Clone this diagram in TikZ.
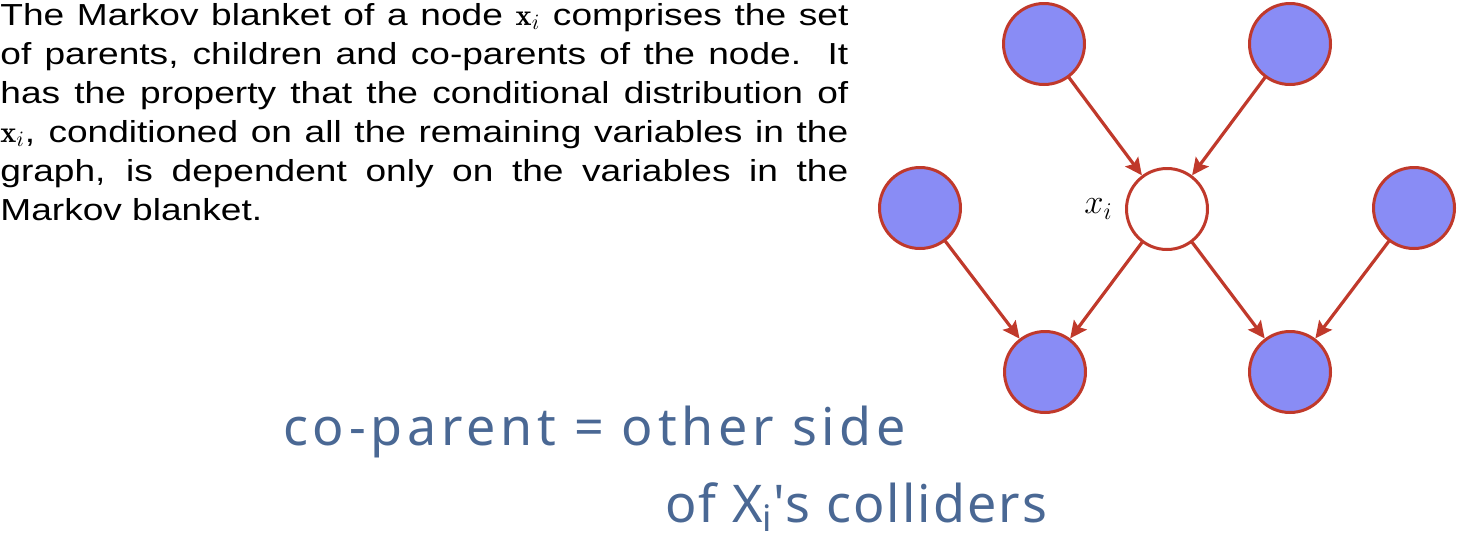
\documentclass[tikz,border=0pt]{standalone}
\usepackage{fontspec}
\usetikzlibrary{positioning,arrows.meta}
\newfontfamily\blurbfont{Liberation Sans}[FakeStretch=1.22]
\newfontfamily\handfont{Noto Sans}[LetterSpace=9]
\definecolor{edgered}{RGB}{192,57,43}
\definecolor{nodeblue}{RGB}{137,140,245}
\definecolor{inkblue}{RGB}{74,104,148}
\begin{document}
\begin{tikzpicture}[x=0.5pt, y=-0.5pt, line cap=round, line join=round, >={Stealth[length=8.5pt,width=8pt,inset=1.5pt]},
		mb/.style={circle, draw=edgered, fill=nodeblue, line width=1.5pt, minimum size=40.5pt, inner sep=0pt},
		xnode/.style={mb, fill=white},
		link/.style={->, draw=edgered, line width=1.6pt},
		hand/.style={anchor=base west, inner sep=0pt, text=inkblue, font=\handfont\fontsize{26}{30}\selectfont}]
			\useasboundingbox (0,0) rectangle (1458,541);
			\node[anchor=north west, inner sep=0pt, text width=424pt, align=justify, font=\blurbfont\fontsize{15.2}{19.5}\selectfont] (blurb) at (0,3)
				{The Markov blanket of a node $\mathbf{x}_i$ comprises the set\linebreak
				of parents, children and co-parents of the node.\ \ It\linebreak
				has the property that the conditional distribution of\linebreak
				$\mathbf{x}_i$, conditioned on all the remaining variables in the\linebreak
				graph, is dependent only on the variables in the\linebreak
				Markov blanket.};
			% the graph
			\node[mb] (pa1) at (1044,44) {};
			\node[mb] (pa2) at (1290,44) {};
			\node[xnode] (xi) at (1167,209) {};
			\node[mb] (cp1) at (920,208) {};
			\node[mb] (cp2) at (1414,208) {};
			\node[mb] (ch1) at (1045,372) {};
			\node[mb] (ch2) at (1290,372) {};
			\node[left=6pt of xi, inner sep=0pt, font=\fontsize{17}{20}\selectfont] (xilab) {$x_i$};
			\draw[link] (pa1) -- (xi);
			\draw[link] (pa2) -- (xi);
			\draw[link] (cp1) -- (ch1);
			\draw[link] (xi) -- (ch1);
			\draw[link] (xi) -- (ch2);
			\draw[link] (cp2) -- (ch2);
			% handwritten note
			\node[hand] (note1) at (283,445) {co-parent = other side};
			\node[hand] (note2) at (665,522) {\addfontfeature{LetterSpace=4}of X\textsubscript{i}'s colliders};
		\end{tikzpicture}
\end{document}
